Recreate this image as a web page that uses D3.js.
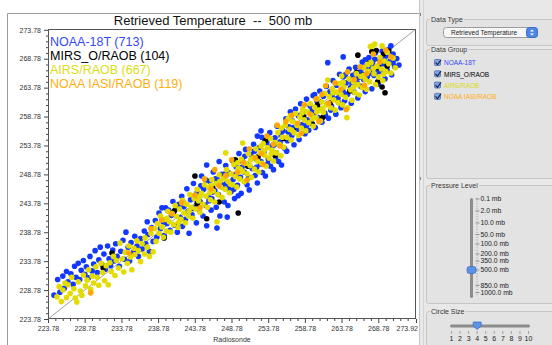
<!DOCTYPE html>
<html><head><meta charset="utf-8">
<script src="https://cdn.jsdelivr.net/npm/d3@7/dist/d3.min.js"></script>
<style>
body{margin:0;background:#fff;overflow:hidden;}
svg{display:block;font-family:"Liberation Sans",Arial,sans-serif;}
</style></head><body>
<svg id="c" width="552" height="345"></svg>
<script>
// ---------------- DATA ----------------
const seriesNames = ["NOAA-18T","MIRS_O/RAOB","AIRS/RAOB","NOAA IASI/RAOB"];
const seriesCounts = [713,104,667,119];
const chartTitle = "Retrieved Temperature  --  500 mb";
const xLabel = "Radiosonde";

const noaa18t = [
[224.6,227.9],[225.1,230.6],[225.4,228.4],[225.8,231.2],[226.0,229.1],[226.3,232.0],[226.5,230.2],[226.9,231.6],[227.2,229.8],[227.4,232.9],[227.6,231.0],[227.9,233.4],[228.1,230.6],[228.3,232.2],[228.6,233.9],[228.8,231.5],[229.0,232.8],[229.3,230.9],[229.5,234.6],[229.8,232.1],[230.0,233.3],[230.2,235.6],[230.5,231.8],[230.7,234.0],[230.9,236.2],[231.2,233.1],[231.4,235.0],[231.6,232.4],[231.9,236.4],[232.1,234.2],[232.3,233.0],[232.6,235.7],[232.8,233.8],[233.0,236.8],[233.2,234.6],[233.5,232.9],[233.7,235.5],[234.0,237.4],[234.2,234.1],[234.4,238.8],[234.7,236.2],[234.9,233.8],[235.1,237.0],[235.4,235.3],[235.6,238.1],[235.9,236.4],[236.1,234.6],[236.4,237.7],[236.6,235.9],[236.9,239.0],[237.1,236.8],[237.4,238.4],[237.6,235.5],[237.9,239.6],[238.1,237.2],
[238.4,240.8],[238.6,237.9],[238.9,242.1],[239.1,239.4],[239.3,241.0],[239.6,238.2],[239.8,243.0],[240.0,240.3],[240.2,242.6],[240.4,239.1],[240.6,241.7],[240.8,244.1],[241.0,240.0],[241.2,242.9],[241.4,238.8],[241.6,243.6],[241.8,241.3],[242.0,245.0],[242.1,239.8],[242.3,243.2],[242.5,241.0],[242.7,246.3],[242.9,242.4],[243.0,238.6],[243.2,244.4],[243.4,241.8],[243.6,247.2],[243.8,243.0],[244.0,240.4],[244.1,245.6],[244.3,242.7],[244.5,244.1],[244.7,248.5],[244.9,241.6],[245.0,246.2],[245.2,243.5],[245.4,239.9],[245.6,245.0],[245.8,247.6],[246.0,242.6],[246.1,244.6],[246.3,249.2],[246.5,246.0],[246.7,243.1],[246.9,247.9],[247.0,245.3],[247.2,241.6],[247.4,248.8],[247.6,246.6],[247.8,244.0],[248.0,250.3],[248.1,247.2],[248.3,243.4],[248.5,249.0],[248.7,245.8],[248.9,251.2],[249.0,247.9],[249.2,244.6],[249.4,250.1],[249.6,246.9],[249.8,252.4],[250.0,248.3],[250.1,245.5],[250.3,251.0],[250.5,249.2],[250.7,253.1],[250.9,247.0],[251.0,250.4],[251.2,246.1],[251.4,252.2],[251.6,249.8],[251.8,254.0],[252.0,248.6],[252.1,251.5],[252.3,247.3],[252.5,253.4],[252.7,250.6],[252.9,255.2],[253.0,249.1],[253.2,252.7],[253.4,248.5],[253.6,254.3],[253.8,251.4],[254.0,256.0],[254.1,250.2],[254.3,253.6],[254.5,249.6],[254.7,255.1],[254.9,252.5],[255.0,257.1],[255.2,251.0],[255.4,254.4],[255.6,250.4],[255.8,256.3],[256.0,253.3],
[245.4,250.4],[247.1,251.0],[252.8,256.3],[252.3,255.4],[246.8,239.5],[248.2,241.4],[249.7,245.1],[239.3,243.0],[237.3,240.6],
[256.2,258.4],[256.4,254.6],[256.6,257.0],[256.8,259.6],[257.0,255.5],[257.1,258.0],[257.3,253.9],[257.5,260.1],[257.7,256.6],[257.9,258.9],[258.0,254.8],[258.2,261.0],[258.4,257.4],[258.6,259.7],[258.8,255.8],[259.0,261.8],[259.1,258.2],[259.3,256.4],[259.5,260.6],[259.7,257.6],[259.9,262.4],[260.0,259.3],[260.2,256.9],[260.4,261.5],[260.6,258.6],[260.8,263.2],[261.0,260.1],[261.1,257.8],[261.3,262.3],[261.5,259.4],[261.7,264.0],[261.9,261.0],[262.0,258.5],[262.2,263.1],[262.4,260.6],[262.6,265.0],[262.8,261.8],[263.0,259.2],[263.1,264.2],[263.3,262.0],[263.5,266.1],[263.7,260.3],[263.9,263.4],[264.0,265.6],[264.2,261.5],[264.4,264.6],[264.6,262.6],[264.8,267.0],[265.0,263.8],[265.1,261.1],[265.3,265.9],[265.5,263.0],[265.7,267.3],[265.9,264.6],[266.0,262.0],[266.2,266.4],[266.4,264.0],[266.6,268.2],[266.8,265.2],[267.0,263.1],[267.1,267.4],[267.3,265.7],[267.5,269.0],[267.7,266.3],[267.9,263.6],[268.0,268.0],[268.2,265.9],[268.4,269.8],[268.6,267.2],[268.8,264.4],[268.9,268.7],[269.1,266.6],[269.3,270.1],[269.5,267.9],[269.7,265.3],[269.9,269.3],[270.0,266.8],[270.2,270.4],[270.4,268.4],[270.6,266.0],[270.8,269.6],[271.0,267.4],[271.3,268.8],[271.6,267.7],[261.9,268.1],[264.0,269.1],[270.8,268.1],[269.0,267.7],
[239.5,240.5],[240.9,242.3],[242.2,244.0],[243.5,242.9],[244.6,246.8],[245.7,244.2],[246.6,248.0],[247.5,247.0],[248.4,246.4],[249.3,248.7],[250.2,250.0],[251.1,248.2],[251.9,252.8],[252.8,251.0],[253.7,250.6],[254.6,253.9],[255.5,255.6],[256.3,252.8],[257.2,256.9],[258.1,259.0],[259.0,257.2],[259.8,260.0],[260.7,261.4],[261.6,258.9],[262.5,262.5],[263.4,261.2],[264.3,266.0],[265.2,264.5],[266.1,265.5],[267.0,268.6],[267.8,267.0],[268.7,266.5],[269.6,268.6],[270.5,271.0],[243.9,244.5],[245.3,247.8],[246.2,245.7],[247.9,248.9],[249.1,246.2],[250.6,251.9],[252.2,250.0],[253.3,254.9],[254.8,251.6],[256.5,256.1],[258.5,257.0],[260.1,262.6],[262.3,259.9],[264.1,262.9],[266.5,266.9],[268.3,268.7]
];

const mirs = [
[231.3,232.6],[232.5,235.2],[239.6,237.8],[241.0,242.5],[243.8,248.5],[245.4,241.1],[247.1,244.0],[249.7,242.1],[249.3,251.3],[251.0,250.2],[252.4,251.8],[254.7,252.1],[255.9,255.0],[257.2,256.3],[258.6,258.8],[259.8,257.5],[261.2,258.6],[262.2,261.1],[263.5,262.8],[264.9,263.2],[265.8,266.4],[266.0,269.4],[266.8,266.0],[267.5,268.0],[267.9,270.0],[268.1,269.8],[268.5,270.2],[268.7,264.8],[269.3,263.9],[269.7,262.9],[269.5,269.6],[270.2,270.1],[270.0,267.5],[268.9,267.2],[246.2,246.5],[253.4,254.6],[260.5,260.8],[244.1,243.7]
];

const airs = [
[225.0,227.6],[225.3,229.4],[225.6,226.8],[225.8,228.8],[226.1,230.0],[226.3,227.5],[226.5,229.7],[226.8,228.2],[227.0,231.0],[227.3,229.0],[227.5,227.4],[227.7,226.7],[227.9,230.2],[228.2,228.6],[228.4,227.9],[228.6,231.4],[228.9,229.5],[229.1,230.5],[229.3,232.3],[229.6,228.9],[229.8,231.2],[230.0,230.0],[230.3,232.8],[230.5,231.0],[230.7,229.6],[231.0,233.4],[231.2,231.8],[231.5,230.4],[231.7,233.0],[232.0,229.7],[232.2,233.5],[232.4,232.0],[232.7,234.6],[232.9,231.3],[233.1,233.9],[233.4,232.6],[233.6,236.9],[233.9,234.2],[234.1,231.9],[234.3,235.3],[234.6,233.4],[234.8,236.4],[235.0,234.5],[235.2,232.3],[235.5,236.0],[235.6,234.9],[235.9,237.3],[236.1,235.6],[236.4,233.7],[236.6,236.8],[236.9,235.0],[237.0,237.8],[237.3,236.2],[237.6,234.6],[237.8,238.6],[238.1,235.4],
[238.3,239.4],[238.5,237.2],[238.7,240.3],[238.9,238.6],[239.1,241.6],[239.3,239.7],[239.5,237.9],[239.7,241.0],[239.9,239.0],[240.1,242.4],[240.3,240.6],[240.5,238.8],[240.7,242.0],[240.9,240.1],[241.1,243.4],[241.3,241.5],[241.5,239.6],[241.7,242.8],[241.9,241.0],[242.1,244.3],[242.3,242.1],[242.5,240.4],[242.7,243.6],[242.9,241.6],[243.1,245.3],[243.3,243.1],[243.5,241.2],[243.7,244.6],[243.9,242.8],[244.1,246.2],[244.3,244.2],[244.5,242.2],[244.7,245.5],[244.9,243.6],[245.1,247.0],[245.3,245.0],[245.5,243.1],[245.7,246.5],[245.9,244.4],[246.1,247.9],[246.3,245.9],[246.5,244.0],[246.7,247.2],[246.9,245.3],[247.1,248.7],[247.3,246.6],[247.5,244.8],[247.7,248.1],[247.9,246.2],[248.1,249.6],[248.3,247.6],[248.5,245.6],[248.7,248.9],[248.9,247.0],[249.1,250.5],[249.3,248.4],[249.5,246.6],[249.7,249.8],[249.9,248.0],[250.1,251.4],[250.3,249.3],[250.5,247.5],[250.7,250.7],[250.9,248.9],[251.1,252.3],[251.3,250.3],[251.5,248.3],[251.7,251.6],[251.9,249.7],[252.1,253.2],[252.3,251.1],[252.5,249.2],[252.7,252.5],[252.9,250.7],[253.1,254.1],[253.3,252.1],[253.5,250.2],[253.7,253.4],[253.9,251.6],[254.1,255.0],[254.3,253.0],[254.5,251.1],[254.7,254.3],[254.9,252.5],[255.1,256.0],[255.3,254.0],[255.5,252.0],[255.7,255.2],[255.9,253.5],
[256.1,257.3],[256.3,255.2],[256.5,258.4],[256.7,256.6],[256.9,254.7],[257.1,257.9],[257.3,256.0],[257.5,259.3],[257.7,257.3],[257.9,255.5],[258.1,258.7],[258.3,256.8],[258.5,260.1],[258.7,258.2],[258.9,256.3],[259.1,259.6],[259.3,257.7],[259.5,261.0],[259.7,259.0],[259.9,257.1],[260.1,260.4],[260.3,258.6],[260.5,261.9],[260.7,259.9],[260.9,258.0],[261.1,261.3],[261.3,259.5],[261.5,262.8],[261.7,260.8],[261.9,265.1],[262.1,262.2],[262.3,260.3],[262.5,263.6],[262.7,261.7],[262.9,259.9],[263.1,263.0],[263.3,261.2],[263.5,264.5],[263.7,262.6],[263.9,260.8],[264.1,263.9],[264.3,262.1],[264.5,258.6],[264.6,260.3],[264.8,265.3],[265.0,263.4],[265.2,261.6],[265.4,264.8],[265.6,262.9],[265.8,266.2],[266.0,264.3],[266.2,262.5],[266.4,265.7],[266.6,263.8],[266.8,267.2],[267.0,265.2],[267.2,263.5],[267.4,266.6],[267.6,264.8],[267.8,268.1],[268.0,271.0],[268.2,266.2],[268.4,264.3],[268.6,267.5],[268.8,265.6],[269.0,269.0],[269.2,267.0],[269.4,265.0],[269.6,268.4],[269.8,266.6],[270.0,269.9],[270.2,267.9],[270.5,266.3],[270.8,268.9],[271.1,267.2],[267.7,270.9],[268.3,271.3],[269.3,271.0],[248.0,252.5],[246.8,240.6],[250.3,254.2],
[240.0,241.2],[241.6,240.5],[243.0,242.4],[244.4,245.0],[245.8,245.6],[247.2,247.6],[248.6,247.1],[250.0,249.7],[251.4,251.3],[252.8,253.7],[254.2,252.4],[255.6,256.8],[257.0,256.4],[258.4,259.4],[259.8,258.4],[261.2,260.2],[262.6,262.9],[264.0,264.7],[265.4,263.9],[266.8,265.9],[268.1,267.1],[269.5,266.1],[242.4,243.8],[246.0,246.9],[249.6,250.8],[253.2,252.9],[256.8,258.9],[260.4,259.6],[263.8,265.8],[267.3,267.8]
];

const iasi = [
[229.6,228.3],[234.8,235.2],[239.3,240.9],[237.8,239.4],[240.6,242.0],[242.0,243.9],[243.8,245.2],[245.1,248.0],[246.0,246.3],[247.1,246.8],[248.0,248.6],[248.8,251.3],[249.6,249.1],[250.4,250.8],[251.2,253.2],[252.0,251.7],[252.9,252.4],[253.6,255.4],[254.5,254.0],[255.4,253.7],[256.2,257.9],[257.0,259.0],[257.8,257.6],[258.7,260.8],[259.5,259.2],[260.3,261.8],[261.1,262.6],[262.0,261.1],[262.9,264.6],[263.7,263.5],[264.6,266.5],[264.4,260.0],[265.5,265.2],[266.3,267.4],[267.2,266.2],[268.1,269.6],[269.0,268.2],[269.8,270.3],[270.5,269.1],[244.5,243.0],[250.9,247.8],[255.0,257.3],[258.3,255.9],[261.6,264.1],[266.9,264.2],[253.1,250.5],[246.5,249.6],[260.7,257.9]
];

const axisMin = 223.78, axisMax = 273.92;
const xTicks = [223.78,228.78,233.78,238.78,243.78,248.78,253.78,258.78,263.78,268.78,273.92];
const yTicks = [223.78,228.78,233.78,238.78,243.78,248.78,253.78,258.78,263.78,268.78,273.78];
const dataTypeSelected = "Retrieved Temperature";
const pressureLevels = ["0.1 mb","2.0 mb","10.0 mb","50.0 mb","100.0 mb","200.0 mb","350.0 mb","500.0 mb","850.0 mb","1000.0 mb"];
const pressureSelected = "500.0 mb";
const circleSizes = [1,2,3,4,5,6,7,8,9,10];
const circleSelected = 4;

// ---------------- STYLE / LAYOUT ----------------
const pointColors = ["#1238ff","#000000","#e2dc00","#ffa800"];
const textColors  = ["#3548ff","#000000","#dcdc10","#ffaf10"];
const W = 552, H = 345;
const plot = {l:48, r:416, t:29, b:319};

const svg = d3.select("#c");

// chart frame
svg.append("rect").attr("x",0).attr("y",0).attr("width",W).attr("height",H).attr("fill","#fff");
svg.append("path").attr("d","M7.5,345 V13.5 H419").attr("fill","none").attr("stroke","#9a9a9a");

svg.append("text").attr("x",213).attr("y",24.5).attr("text-anchor","middle")
  .attr("font-size",13).attr("fill","#111").style("white-space","pre").text(chartTitle);

const x = d3.scaleLinear().domain([axisMin,axisMax]).range([plot.l,plot.r]);
const y = d3.scaleLinear().domain([axisMin,axisMax]).range([plot.b,plot.t]);

const minorVals = d3.range(224.78, 273.5, 1).filter(v => Math.abs((v-223.78)%5) > 0.01 && Math.abs((v-223.78)%5-5) > 0.01);

function styleAxis(g){
  g.select(".domain").remove();
  g.selectAll(".tick line").attr("stroke","#444");
  g.selectAll(".tick text").attr("font-size",7).attr("fill","#333").attr("font-family","Liberation Sans, Arial, sans-serif");
}
svg.append("g").attr("transform",`translate(0,${plot.b})`)
  .call(d3.axisBottom(x).tickValues(minorVals).tickSize(2).tickFormat("")).call(styleAxis);
svg.append("g").attr("transform",`translate(${plot.l},0)`)
  .call(d3.axisLeft(y).tickValues(minorVals).tickSize(2).tickFormat("")).call(styleAxis);
const xAxisG = svg.append("g").attr("transform",`translate(0,${plot.b})`)
  .call(d3.axisBottom(x).tickValues(xTicks).tickSize(4).tickPadding(3).tickFormat(d3.format(".2f"))).call(styleAxis);
xAxisG.selectAll(".tick text").filter(d => d === axisMax).attr("text-anchor","end").attr("dx","1.5");
svg.append("g").attr("transform",`translate(${plot.l},0)`)
  .call(d3.axisLeft(y).tickValues(yTicks).tickSize(4).tickPadding(3).tickFormat(d3.format(".2f"))).call(styleAxis);

svg.append("text").attr("x",232).attr("y",342).attr("text-anchor","middle")
  .attr("font-size",7).attr("fill","#333").text(xLabel);

// plot border
svg.append("rect").attr("x",plot.l+0.5).attr("y",plot.t+0.5)
  .attr("width",plot.r-plot.l-1).attr("height",plot.b-plot.t-1)
  .attr("fill","none").attr("stroke","#555").attr("stroke-width",1);

// diagonal 1:1 line
svg.append("line").attr("x1",x(axisMin)).attr("y1",y(axisMin)).attr("x2",x(axisMax)).attr("y2",y(axisMax))
  .attr("stroke","#777").attr("stroke-width",0.7);

// points (drawn in legend order)
const seriesData = [noaa18t, mirs, airs, iasi];
const pts = svg.append("g");
seriesData.forEach((data,i)=>{
  pts.append("g").selectAll("circle").data(data).join("circle")
    .attr("cx",d=>x(d[0])).attr("cy",d=>y(d[1])).attr("r",2.8).attr("fill",pointColors[i]);
});

// legend
seriesNames.forEach((n,i)=>{
  svg.append("text").attr("x",50).attr("y",46+i*14).attr("font-size",12.5)
    .attr("fill",textColors[i]).text(`${n} (${seriesCounts[i]})`);
});

// ---------------- RIGHT PANEL ----------------
const panel = svg.append("g");
panel.append("rect").attr("x",419).attr("y",0).attr("width",133).attr("height",H).attr("fill","#e8e8e8");
panel.append("line").attr("x1",419.5).attr("x2",419.5).attr("y1",0).attr("y2",H).attr("stroke","#c4c4c4");
panel.append("line").attr("x1",423.5).attr("x2",423.5).attr("y1",0).attr("y2",H).attr("stroke","#d4d4d4");
panel.append("path").attr("d","M420.5,13 v3 M420.5,177 v3").attr("stroke","#888");

function group(label, y0, y1){
  panel.append("rect").attr("x",426.5).attr("y",y0+0.5).attr("width",130).attr("height",y1-y0)
    .attr("fill","#e3e3e3").attr("stroke","#c6c6c6").attr("rx",2);
  const t = panel.append("text").attr("x",431).attr("y",y0+2.5).attr("font-size",7).attr("fill","#333").text(label);
  const bb = t.node().getBBox();
  panel.insert("rect", () => t.node()).attr("x",bb.x-1).attr("y",y0-2).attr("width",bb.width+2).attr("height",5).attr("fill","#e8e8e8");
}
group("Data Type",19,45);
group("Data Group",49,178);
group("Pressure Level",185,303);
group("Circle Size",311,360);

// combo box
panel.append("rect").attr("x",443.5).attr("y",27.5).attr("width",94).attr("height",10).attr("rx",3)
  .attr("fill","#f7f7f7").attr("stroke","#9c9c9c");
panel.append("rect").attr("x",526.5).attr("y",27.5).attr("width",11).attr("height",10).attr("rx",3)
  .attr("fill","#4f86e6").attr("stroke","#3d6ec8");
panel.append("path").attr("d","M530,31.5 l2,-2 l2,2 Z M530,33.5 l2,2 l2,-2 Z").attr("fill","#fff");
panel.append("text").attr("x",484).attr("y",35).attr("text-anchor","middle").attr("font-size",6.5).attr("fill","#222").text(dataTypeSelected);

// check boxes
seriesNames.forEach((n,i)=>{
  const cy = 63 + i*11.3;
  panel.append("rect").attr("x",434.5).attr("y",cy-3.5).attr("width",6).attr("height",6).attr("rx",1)
    .attr("fill","#7aa6ec").attr("stroke","#44609a").attr("stroke-width",0.7);
  panel.append("path").attr("d",`M435.5,${cy-0.5} l2,2.2 l3.5,-5`).attr("fill","none").attr("stroke","#1a1a3a").attr("stroke-width",1.1);
  panel.append("text").attr("x",444).attr("y",cy+2.3).attr("font-size",6.5).attr("fill",textColors[i]).text(n);
});

// pressure slider
const pressurePos = [199,211,223,234.5,244,254,261,270,285.5,292.5];
panel.append("rect").attr("x",470).attr("y",198).attr("width",3).attr("height",100).attr("rx",1.5).attr("fill","#8c8c8c");
const minorP = d3.range(198, 296, 2.6);
panel.append("g").selectAll("line").data(minorP).join("line")
  .attr("x1",476).attr("x2",478).attr("y1",d=>d+0.5).attr("y2",d=>d+0.5).attr("stroke","#aaa").attr("stroke-width",0.6);
pressureLevels.forEach((p,i)=>{
  panel.append("line").attr("x1",475.5).attr("x2",479.5).attr("y1",pressurePos[i]).attr("y2",pressurePos[i]).attr("stroke","#777").attr("stroke-width",0.7);
  panel.append("text").attr("x",480.5).attr("y",pressurePos[i]+2.4).attr("font-size",6.8).attr("fill","#222").text(p);
});
const pSel = pressurePos[pressureLevels.indexOf(pressureSelected)];
panel.append("rect").attr("x",467).attr("y",pSel-3.5).attr("width",9).attr("height",7).attr("rx",2.5)
  .attr("fill","#5b93ea").attr("stroke","#3a68b8").attr("stroke-width",0.7);

// circle size slider
const cs = d3.scaleLinear().domain([1,10]).range([451.5,528.5]);
panel.append("rect").attr("x",450).attr("y",324.5).attr("width",80).attr("height",3).attr("rx",1.5).attr("fill","#8c8c8c");
circleSizes.forEach(c=>{
  panel.append("line").attr("x1",cs(c)).attr("x2",cs(c)).attr("y1",331).attr("y2",334).attr("stroke","#777").attr("stroke-width",0.6);
  panel.append("text").attr("x",cs(c)).attr("y",341).attr("text-anchor","middle").attr("font-size",7).attr("fill","#222").text(c);
});
panel.append("path").attr("d",`M${cs(circleSelected)-4},322 h8 v4 l-4,3.5 l-4,-3.5 Z`)
  .attr("fill","#5b93ea").attr("stroke","#3a68b8").attr("stroke-width",0.7);
</script>
</body></html>
